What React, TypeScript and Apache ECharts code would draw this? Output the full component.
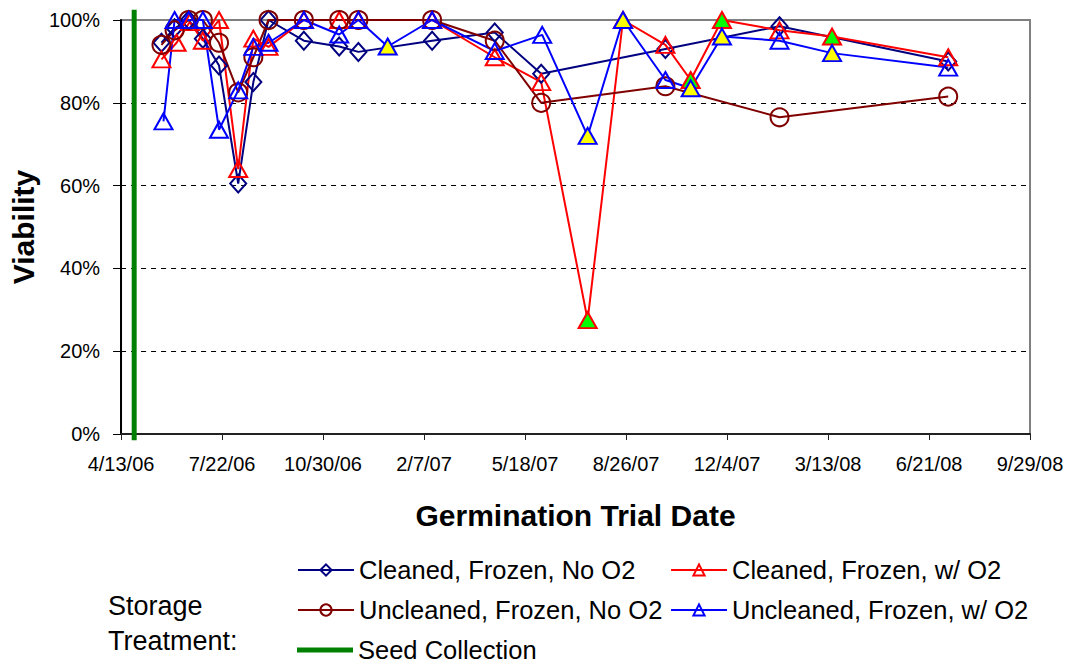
import React, { useEffect, useRef } from "react";
import * as echarts from "echarts";

// ---- axis definition ----
const AXIS_START = "2006-04-13";
const AXIS_END = "2008-09-29";
const TICK_DAYS = 100;
const Y_TICKS = [0, 20, 40, 60, 80, 100];

// ---- seed collection ----
const SEED_COLLECTION_DATE = "2006-04-26";
const SEED_LINE_VALUES = [-1.5, 102.5];

// ---- Cleaned, Frozen, No O2 ----
const cleanedNoO2Dates = [
  "2006-05-23", "2006-06-05", "2006-06-19", "2006-07-03", "2006-07-19", "2006-08-07",
  "2006-08-22", "2006-09-06", "2006-10-11", "2006-11-15", "2006-12-04", "2007-02-15",
  "2007-04-18", "2007-06-03", "2007-10-04", "2008-01-25", "2008-07-10",
];
const cleanedNoO2Values = [
  94.5, 98, 100, 95.5, 89, 60.5, 85, 100, 95, 93.6, 92.3, 95, 97, 87, 93, 98.5, 90,
];

// ---- Cleaned, Frozen, w/ O2 ----
const cleanedO2Dates = [
  "2006-05-23", "2006-06-07", "2006-06-20", "2006-07-03", "2006-07-19", "2006-08-07",
  "2006-08-22", "2006-09-06", "2006-10-11", "2006-11-15", "2006-12-04", "2007-02-15",
  "2007-04-18", "2007-06-03", "2007-07-19", "2007-08-23", "2007-10-04", "2007-10-29",
  "2007-11-29", "2008-01-25", "2008-03-17", "2008-07-10",
];
const cleanedO2Values = [
  90.5, 94.5, 99.5, 95, 100, 64, 95.5, 93.5, 100, 100, 100, 100,
  91, 85, 27.5, 100, 94, 85.5, 100, 97.5, 96, 91,
];
const cleanedO2Highlighted = ["2007-07-19", "2007-10-29", "2007-11-29", "2008-03-17"];

// ---- Uncleaned, Frozen, No O2 ----
const uncleanedNoO2Dates = [
  "2006-05-23", "2006-06-05", "2006-06-19", "2006-07-03", "2006-07-19", "2006-08-07",
  "2006-08-22", "2006-09-06", "2006-10-11", "2006-11-15", "2006-12-04", "2007-02-15",
  "2007-04-18", "2007-06-03", "2007-10-04", "2008-01-25", "2008-07-10",
];
const uncleanedNoO2Values = [
  94, 97.5, 100, 100, 94.5, 82.5, 91, 100, 100, 100, 100, 100, 95, 80, 84, 76.5, 81.5,
];

// ---- Uncleaned, Frozen, w/ O2 ----
const uncleanedO2Dates = [
  "2006-05-25", "2006-06-05", "2006-06-19", "2006-07-03", "2006-07-19", "2006-08-07",
  "2006-08-22", "2006-09-06", "2006-10-11", "2006-11-15", "2006-12-04", "2007-01-02",
  "2007-02-15", "2007-04-18", "2007-06-04", "2007-07-19", "2007-08-23", "2007-10-04",
  "2007-10-29", "2007-11-29", "2008-01-25", "2008-03-17", "2008-07-10",
];
const uncleanedO2Values = [
  75.5, 100, 100, 100, 73.5, 83, 93.5, 94.5, 100, 96.5, 100, 93.6,
  100, 92.5, 96.4, 72, 100, 85.5, 83.5, 96, 95, 92, 88.5,
];
const uncleanedO2Highlighted = [
  "2007-01-02", "2007-07-19", "2007-08-23", "2007-10-29", "2007-11-29", "2008-03-17",
];

const NAMES = {
  cNo: "Cleaned, Frozen, No O2",
  cO2: "Cleaned, Frozen, w/ O2",
  uNo: "Uncleaned, Frozen, No O2",
  uO2: "Uncleaned, Frozen, w/ O2",
  seed: "Seed Collection",
};

const DAY = 86400000;
const parse = (s: string) => {
  const [y, m, d] = s.split("-").map(Number);
  return Date.UTC(y, m - 1, d);
};
const ORIGIN = parse(AXIS_START);
const off = (s: string) => Math.round((parse(s) - ORIGIN) / DAY);
const fmt = (v: number) => {
  const dt = new Date(ORIGIN + v * DAY);
  return `${dt.getUTCMonth() + 1}/${dt.getUTCDate()}/${String(dt.getUTCFullYear()).slice(2)}`;
};

const FONT = "'Liberation Sans', Arial, sans-serif";

function makeSeries(
  name: string,
  dates: string[],
  values: number[],
  color: string,
  symbol: string,
  symbolSize: number | number[],
  highlighted: string[] = [],
  highlightColor = ""
) {
  return {
    name,
    type: "line",
    clip: false,
    symbol,
    symbolSize,
    showSymbol: true,
    lineStyle: { color, width: 2 },
    itemStyle: { color: "rgba(255,255,255,0)", borderColor: color, borderWidth: 2 },
    emphasis: { disabled: true },
    data: dates.map((d, i) => {
      const item: any = { value: [off(d), values[i]] };
      if (highlighted.includes(d)) item.itemStyle = { color: highlightColor };
      return item;
    }),
  };
}

export default function App() {
  const ref = useRef<HTMLDivElement>(null);
  useEffect(() => {
    document.body.style.margin = "0";
    if (!ref.current) return;
    const chart = echarts.init(ref.current, undefined, { renderer: "svg" });
    const legendText = { fontSize: 25.5, color: "#000", fontFamily: FONT };
    const legendBase = {
      orient: "horizontal",
      itemWidth: 56,
      itemHeight: 14,
      padding: 0,
      selectedMode: false,
      textStyle: legendText,
    };
    const option: any = {
      animation: false,
      backgroundColor: "#fff",
      textStyle: { fontFamily: FONT },
      grid: {
        left: 120,
        right: 38,
        top: 20,
        bottom: 232,
        show: true,
        borderColor: "#808080",
        borderWidth: 2,
        containLabel: false,
      },
      xAxis: {
        type: "value",
        min: 0,
        max: off(AXIS_END),
        interval: TICK_DAYS,
        name: "Germination Trial Date",
        nameLocation: "middle",
        nameGap: 66,
        nameTextStyle: { fontSize: 30, fontWeight: "bold", color: "#000", fontFamily: FONT },
        axisLine: { show: true, lineStyle: { color: "#222", width: 2 } },
        axisTick: { show: true, length: 6, lineStyle: { color: "#222", width: 1 } },
        axisLabel: {
          fontSize: 20,
          color: "#000",
          margin: 20,
          showMinLabel: true,
          showMaxLabel: true,
          formatter: (v: number) => fmt(v),
        },
        splitLine: { show: false },
      },
      yAxis: {
        type: "value",
        min: Y_TICKS[0],
        max: Y_TICKS[Y_TICKS.length - 1],
        interval: Y_TICKS[1] - Y_TICKS[0],
        name: "Viability",
        nameLocation: "middle",
        nameGap: 75,
        nameTextStyle: { fontSize: 30, fontWeight: "bold", color: "#000", fontFamily: FONT },
        axisLine: { show: true, lineStyle: { color: "#000", width: 2 } },
        axisTick: { show: true, length: 8, lineStyle: { color: "#000", width: 1 } },
        axisLabel: { fontSize: 20, color: "#000", margin: 21, formatter: (v: number) => `${v}%` },
        splitLine: {
          show: true,
          showMinLine: false,
          showMaxLine: false,
          lineStyle: { color: "#000", width: 1, type: [5, 5] },
        },
      },
      legend: [
        { ...legendBase, data: [NAMES.cNo], left: 297, top: 557 },
        { ...legendBase, data: [NAMES.cO2], left: 670, top: 557 },
        { ...legendBase, data: [NAMES.uNo], left: 297, top: 597 },
        { ...legendBase, data: [NAMES.uO2], left: 670, top: 597 },
        {
          ...legendBase,
          itemHeight: 5,
          data: [{ name: NAMES.seed, icon: "rect", itemStyle: { color: "#008000", borderWidth: 0 } }],
          left: 297,
          top: 637,
        },
      ],
      graphic: [
        {
          type: "text",
          left: 108,
          top: 588,
          style: {
            text: "Storage\nTreatment:",
            fontSize: 27,
            lineHeight: 35,
            fill: "#000",
            fontFamily: FONT,
          },
        },
      ],
      series: [
        makeSeries(NAMES.cNo, cleanedNoO2Dates, cleanedNoO2Values, "#000080", "diamond", [16, 18]),
        makeSeries(
          NAMES.cO2, cleanedO2Dates, cleanedO2Values, "#ff0000", "triangle", [18, 16],
          cleanedO2Highlighted, "#00ff00"
        ),
        makeSeries(NAMES.uNo, uncleanedNoO2Dates, uncleanedNoO2Values, "#800000", "circle", 18),
        makeSeries(
          NAMES.uO2, uncleanedO2Dates, uncleanedO2Values, "#0000ff", "triangle", [18, 16],
          uncleanedO2Highlighted, "#ffff00"
        ),
        {
          name: NAMES.seed,
          type: "line",
          clip: false,
          symbol: "none",
          lineStyle: { color: "#008000", width: 5 },
          itemStyle: { color: "#008000" },
          emphasis: { disabled: true },
          data: SEED_LINE_VALUES.map((v) => [off(SEED_COLLECTION_DATE), v]),
        },
      ],
    };
    chart.setOption(option);
    return () => chart.dispose();
  }, []);
  return <div ref={ref} style={{ width: 1068, height: 666 }} />;
}
